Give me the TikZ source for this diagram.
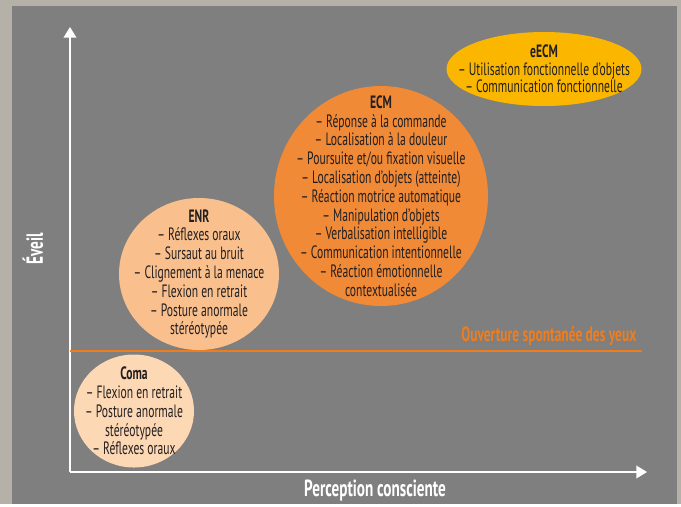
\documentclass[tikz,border=0pt]{standalone}
\usepackage{fontspec}
\setmainfont{PT Sans}[FakeStretch=0.65]
\usetikzlibrary{arrows.meta,shapes.geometric}

\definecolor{frame}{HTML}{B5B1A8}
\definecolor{panel}{HTML}{7F7F7F}
\definecolor{eecmfill}{HTML}{FBB700}
\definecolor{ecmfill}{HTML}{F08A37}
\definecolor{enrfill}{HTML}{F9C08D}
\definecolor{comafill}{HTML}{FDD8B4}
\definecolor{eyes}{HTML}{EE7D1F}
\definecolor{ink}{HTML}{231F20}

\tikzset{
  axis/.style={draw=white, line width=1.1pt, -{Triangle[width=9.5pt,length=8pt]}},
  stage/.style={ellipse, inner sep=0pt, draw=none},
  blurb/.style={align=center, text=ink, font=\fontsize{13.4}{14.1}\selectfont},
  axislabel/.style={text=white, font=\fontsize{17.5}{19}\selectfont\bfseries},
}

\begin{document}
\begin{tikzpicture}[x=0.75pt,y=-0.75pt]
		%%%%% START %%%%%
		\fill[frame] (0,0) rectangle (681,504);
		\fill[panel] (12,6) rectangle (677,504);
		
		% axes
		\coordinate (origin) at (70,472);
		\coordinate (ytop) at (70,27);
		\coordinate (xend) at (647,472);
		\draw[axis] (origin) -- (ytop);
		\draw[axis] (origin) -- (xend);
		\node[axislabel, rotate=90] (eveil) at (33,249) {Éveil};
		\node[axislabel] (perception) at (375,491) {Perception consciente};
		
		% eyes opening threshold
		\draw[eyes, line width=0.8pt] (70,351) -- (642,351);
		\node[anchor=base east, text=eyes, font=\fontsize{15.5}{16}\selectfont\bfseries] (yeux) at (641,341) {Ouverture spontanée des yeux};
		
		% states
		\node[stage, fill=eecmfill, minimum width=146.25pt, minimum height=55.5pt] (eecm) at (544,69) {};
		\node[blurb, font=\fontsize{13.4}{13.2}\selectfont] (eecmtext) at (eecm) {\textbf{eECM}\\– Utilisation fonctionnelle d’objets\\– Communication fonctionnelle};
		
		\node[stage, fill=enrfill, minimum width=120pt, minimum height=114pt] (enr) at (199,274) {};
		\node[blurb] (enrtext) at (enr) {\textbf{ENR}\\– Réflexes oraux\\– Sursaut au bruit\\– Clignement à la menace\\– Flexion en retrait\\– Posture anormale\\stéréotypée};
		
		\node[stage, fill=ecmfill, minimum width=160.5pt, minimum height=165pt] (ecm) at (381,196) {};
		\node[blurb] (ecmtext) at (ecm) {\textbf{ECM}\\– Réponse à la commande\\– Localisation à la douleur\\– Poursuite et/ou fixation visuelle\\– Localisation d’objets (atteinte)\\– Réaction motrice automatique\\– Manipulation d’objets\\– Verbalisation intelligible\\– Communication intentionnelle\\– Réaction émotionnelle\\contextualisée};
		
		\node[stage, fill=comafill, minimum width=90pt, minimum height=84.75pt] (coma) at (134,411) {};
		\node[blurb] (comatext) at (coma) {\textbf{Coma}\\– Flexion en retrait\\– Posture anormale\\stéréotypée\\– Réflexes oraux};
		%%%%% END %%%%%
\end{tikzpicture}
\end{document}
